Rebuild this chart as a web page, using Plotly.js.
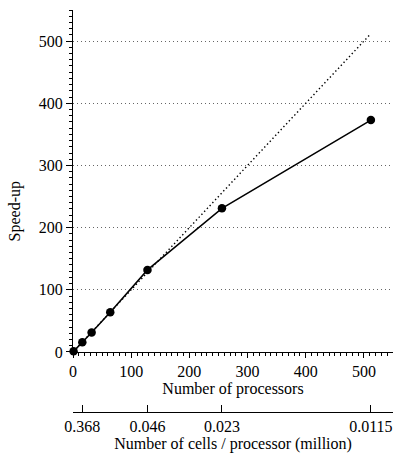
<!DOCTYPE html>
<html>
<head>
<meta charset="utf-8">
<script src="https://cdn.plot.ly/plotly-3.0.1.min.js"></script>
<style>
  html, body { margin: 0; padding: 0; background: #fff; }
  #chart { width: 393px; height: 454px; }
</style>
</head>
<body>
<div id="chart"></div>
<script>
// Measured parallel speed-up against processor count
const processors = [1, 16, 32, 64, 128, 256, 512];
const speedup = [1, 15.5, 31.5, 64, 132, 231, 373];

// Ideal (linear) speed-up reference line
const idealX = [0, 512];
const idealY = [0, 512];

// Secondary axis: cells per processor at the measured processor counts
const cellTickVals = [16, 128, 256, 512];
const cellTickText = ['0.368', '0.046', '0.023', '0.0115'];

const font = { family: '"Liberation Serif", "Times New Roman", serif', size: 16, color: '#000' };

const traces = [
  {
    x: idealX, y: idealY,
    type: 'scatter', mode: 'lines',
    line: { color: '#000', width: 1.4, dash: '1.4px,2.6px' },
    hoverinfo: 'skip', showlegend: false
  },
  {
    x: processors, y: speedup,
    type: 'scatter', mode: 'lines+markers',
    line: { color: '#000', width: 1.5 },
    marker: { color: '#000', size: 8.5 },
    cliponaxis: false, showlegend: false
  },
  {
    // carries the secondary (cells / processor) axis
    x: processors, y: speedup, xaxis: 'x2',
    type: 'scatter', mode: 'markers',
    marker: { opacity: 0 }, hoverinfo: 'skip', showlegend: false
  }
];

const layout = {
  width: 393, height: 454,
  margin: { l: 73, r: 0, t: 10, b: 42 },
  paper_bgcolor: '#fff', plot_bgcolor: '#fff',
  font: font,
  showlegend: false,
  xaxis: {
    range: [0, 550], dtick: 100, tick0: 0,
    ticks: 'outside', ticklen: 5, tickcolor: '#000', tickwidth: 1,
    minor: { dtick: 10, ticks: 'outside', ticklen: 3, tickcolor: '#000', showgrid: false },
    showline: true, linecolor: '#000', linewidth: 1,
    showgrid: false, zeroline: false,
    tickfont: font,
    title: { text: 'Number of processors', font: font, standoff: 1 },
    automargin: false, anchor: 'y'
  },
  xaxis2: {
    overlaying: 'x', anchor: 'free', position: 0, side: 'bottom',
    range: [0, 550],
    tickmode: 'array', tickvals: cellTickVals, ticktext: cellTickText,
    ticks: 'inside', ticklen: 7, tickcolor: '#000', tickwidth: 1,
    showline: true, linecolor: '#000', linewidth: 1,
    showgrid: false, zeroline: false,
    tickfont: font,
    title: { text: 'Number of cells / processor (million)', font: font, standoff: 0 },
    automargin: false
  },
  yaxis: {
    domain: [0.1493, 1],
    range: [0, 550], dtick: 100, tick0: 0,
    ticks: 'outside', ticklen: 6, tickcolor: '#000', tickwidth: 1,
    minor: { dtick: 10, ticks: 'outside', ticklen: 3, tickcolor: '#000', showgrid: false },
    showline: true, linecolor: '#000', linewidth: 1,
    showgrid: true, gridcolor: '#666', griddash: '1px,3px', gridwidth: 1,
    zeroline: false,
    tickfont: font,
    automargin: false
  },
  annotations: [
    {
      text: 'Speed-up', textangle: -90, font: font,
      xref: 'paper', yref: 'paper',
      x: -0.18, y: 0.5, xanchor: 'center', yanchor: 'middle',
      showarrow: false
    }
  ]
};

Plotly.newPlot('chart', traces, layout, { staticPlot: true, displayModeBar: false });
</script>
</body>
</html>
